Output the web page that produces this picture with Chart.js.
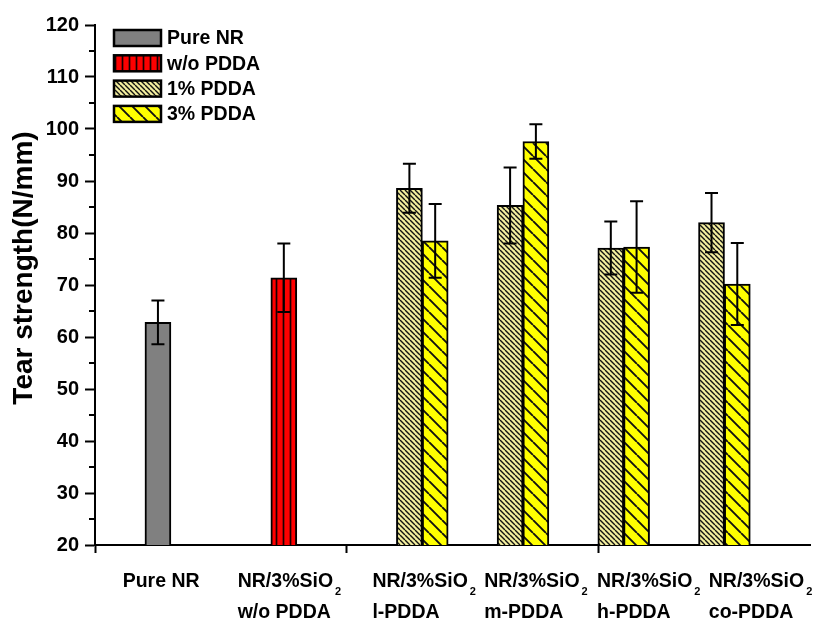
<!DOCTYPE html>
<html>
<head>
<meta charset="utf-8">
<script src="https://cdn.jsdelivr.net/npm/chart.js@4/dist/chart.umd.min.js"></script>
<style>
  html, body { margin: 0; padding: 0; background: #fff; }
  #wrap { width: 815px; height: 623px; position: relative; }
</style>
</head>
<body>
<div id="wrap"><canvas id="chart"></canvas></div>
<script>
// Sample groups (each entry: lines of the label under the axis)
const categories = [
  ['Pure NR'],
  ['NR/3%SiO₂', 'w/o PDDA'],
  ['NR/3%SiO₂', 'l-PDDA'],
  ['NR/3%SiO₂', 'm-PDDA'],
  ['NR/3%SiO₂', 'h-PDDA'],
  ['NR/3%SiO₂', 'co-PDDA']
];
const seriesNames = ['Pure NR', 'w/o PDDA', '1% PDDA', '3% PDDA'];

// Tear strength (N/mm) and standard deviation
const pureNR = [62.8];
const pureNRErr = [4.2];
const withoutPDDA = [71.4];
const withoutPDDAErr = [6.6];
const pdda1 = [88.6, 85.3, 77.1, 82.0];      // l-, m-, h-, co-PDDA
const pdda1Err = [4.7, 7.3, 5.1, 5.7];
const pdda3 = [78.5, 97.6, 77.3, 70.2];
const pdda3Err = [7.1, 3.3, 8.8, 7.9];

const yTicks = [20, 30, 40, 50, 60, 70, 80, 90, 100, 110, 120];
const yMinorTicks = [25, 35, 45, 55, 65, 75, 85, 95, 105, 115];

// Layout of the x axis (axis units)
const groupAt = [0.625, 1.875, 3.25, 4.25, 5.25, 6.25];
const labelAt = [0.275, 1.417, 2.755, 3.865, 4.985, 6.095];
const xTickAt = [0, 2.5, 5];
const halfSlot = 0.128;

const FONT = "'Liberation Sans', Arial, Helvetica, sans-serif";

function makePattern(bg, kind, size, lineW, color) {
  const c = document.createElement('canvas');
  c.width = size; c.height = size;
  const g = c.getContext('2d');
  g.fillStyle = bg;
  g.fillRect(0, 0, size, size);
  g.strokeStyle = color;
  g.lineWidth = lineW;
  g.beginPath();
  if (kind === 'vertical') {
    g.moveTo(size / 2, 0); g.lineTo(size / 2, size);
  } else if (kind === 'back') {
    for (let k = -1; k <= 1; k++) {
      g.moveTo(k * size, 0);
      g.lineTo(k * size + size, size);
    }
  }
  g.stroke();
  return g.createPattern(c, 'repeat');
}

const fills = [
  '#808080',
  makePattern('#ff0000', 'vertical', 7, 1.7, '#1a0000'),
  makePattern('#f3ee9e', 'back', 5, 1.4, '#111'),
  makePattern('#ffff00', 'back', 13, 1.9, '#111')
];

const datasets = [
  { label: seriesNames[0], data: pureNR.map(y => ({ x: groupAt[0], y })), err: pureNRErr },
  { label: seriesNames[1], data: withoutPDDA.map(y => ({ x: groupAt[1], y })), err: withoutPDDAErr },
  { label: seriesNames[2], data: pdda1.map((y, i) => ({ x: groupAt[i + 2] - halfSlot, y })), err: pdda1Err },
  { label: seriesNames[3], data: pdda3.map((y, i) => ({ x: groupAt[i + 2] + halfSlot, y })), err: pdda3Err }
].map((d, i) => Object.assign(d, {
  backgroundColor: fills[i],
  borderColor: '#000',
  borderWidth: 2,
  borderSkipped: false,
  barThickness: 26,
  grouped: false
}));

// Error bars, minor ticks, axis title, category labels and legend
const decorations = {
  id: 'decorations',
  afterDatasetsDraw(chart) {
    const ctx = chart.ctx;
    const y = chart.scales.y;
    ctx.save();
    ctx.strokeStyle = '#000';
    ctx.lineWidth = 2;
    chart.data.datasets.forEach((ds, di) => {
      const meta = chart.getDatasetMeta(di);
      meta.data.forEach((bar, i) => {
        const v = ds.data[i].y, e = ds.err[i];
        const top = y.getPixelForValue(v + e), bot = y.getPixelForValue(v - e);
        ctx.beginPath();
        ctx.moveTo(bar.x, top); ctx.lineTo(bar.x, bot);
        ctx.moveTo(bar.x - 6.5, top); ctx.lineTo(bar.x + 6.5, top);
        ctx.moveTo(bar.x - 6.5, bot); ctx.lineTo(bar.x + 6.5, bot);
        ctx.stroke();
      });
    });
    ctx.restore();
  },
  afterDraw(chart) {
    const ctx = chart.ctx;
    const { x: xs, y: ys } = chart.scales;
    const area = chart.chartArea;
    ctx.save();

    // minor ticks on the y axis
    ctx.strokeStyle = '#000';
    ctx.lineWidth = 2;
    ctx.beginPath();
    yMinorTicks.forEach(v => {
      const py = Math.round(ys.getPixelForValue(v));
      ctx.moveTo(area.left - 6, py);
      ctx.lineTo(area.left, py);
    });
    ctx.stroke();

    // y axis title
    ctx.fillStyle = '#000';
    ctx.save();
    ctx.translate(24, 268);
    ctx.rotate(-Math.PI / 2);
    ctx.font = 'bold 28px ' + FONT;
    ctx.textAlign = 'center';
    ctx.textBaseline = 'middle';
    ctx.fillText('Tear strength(N/mm)', 0, 0);
    ctx.restore();

    // category labels with subscript digits
    const mainFont = 'bold 19.5px ' + FONT;
    const subFont = 'bold 11px ' + FONT;
    ctx.textAlign = 'left';
    ctx.textBaseline = 'alphabetic';
    const drawRich = (text, x, base) => {
      let cx = x;
      for (const ch of text) {
        if (ch === '₂') {
          ctx.font = subFont;
          cx += 2;
          ctx.fillText('2', cx, base + 8);
          cx += ctx.measureText('2').width;
        } else {
          ctx.font = mainFont;
          ctx.fillText(ch, cx, base);
          cx += ctx.measureText(ch).width;
        }
      }
    };
    categories.forEach((lines, i) => {
      const x0 = xs.getPixelForValue(labelAt[i]);
      lines.forEach((line, li) => drawRich(line, x0, 587 + li * 31));
    });

    // legend
    ctx.font = 'bold 19.5px ' + FONT;
    ctx.textBaseline = 'middle';
    chart.data.datasets.forEach((ds, i) => {
      const cy = 38 + i * 25.3;
      ctx.fillStyle = ds.backgroundColor;
      ctx.fillRect(114, cy - 8, 47, 16);
      ctx.strokeStyle = '#000';
      ctx.lineWidth = 2.5;
      ctx.strokeRect(114, cy - 8, 47, 16);
      ctx.fillStyle = '#000';
      ctx.fillText(ds.label, 167, cy + 1);
    });
    ctx.restore();
  }
};

new Chart(document.getElementById('chart'), {
  type: 'bar',
  data: { datasets },
  plugins: [decorations],
  options: {
    responsive: true,
    maintainAspectRatio: false,
    animation: false,
    layout: { padding: { top: 25, right: 5, left: 0, bottom: 0 } },
    plugins: { legend: { display: false }, tooltip: { enabled: false } },
    scales: {
      x: {
        type: 'linear',
        min: 0,
        max: 7.1,
        offset: false,
        afterBuildTicks: s => { s.ticks = xTickAt.map(v => ({ value: v })); },
        ticks: { display: false },
        grid: { offset: false, drawOnChartArea: false, drawTicks: true, tickLength: 8, tickColor: '#000', tickWidth: 2 },
        border: { color: '#000', width: 2 },
        afterFit: s => { s.height = 78; }
      },
      y: {
        min: 20,
        max: 120,
        afterBuildTicks: s => { s.ticks = yTicks.map(v => ({ value: v })); },
        ticks: { color: '#000', font: { family: FONT, size: 20, weight: 'bold' }, padding: 6 },
        grid: { offset: false, drawOnChartArea: false, tickLength: 10, tickColor: '#000', tickWidth: 2 },
        border: { color: '#000', width: 2 },
        afterFit: s => { s.width = 95; }
      }
    }
  }
});
</script>
</body>
</html>
